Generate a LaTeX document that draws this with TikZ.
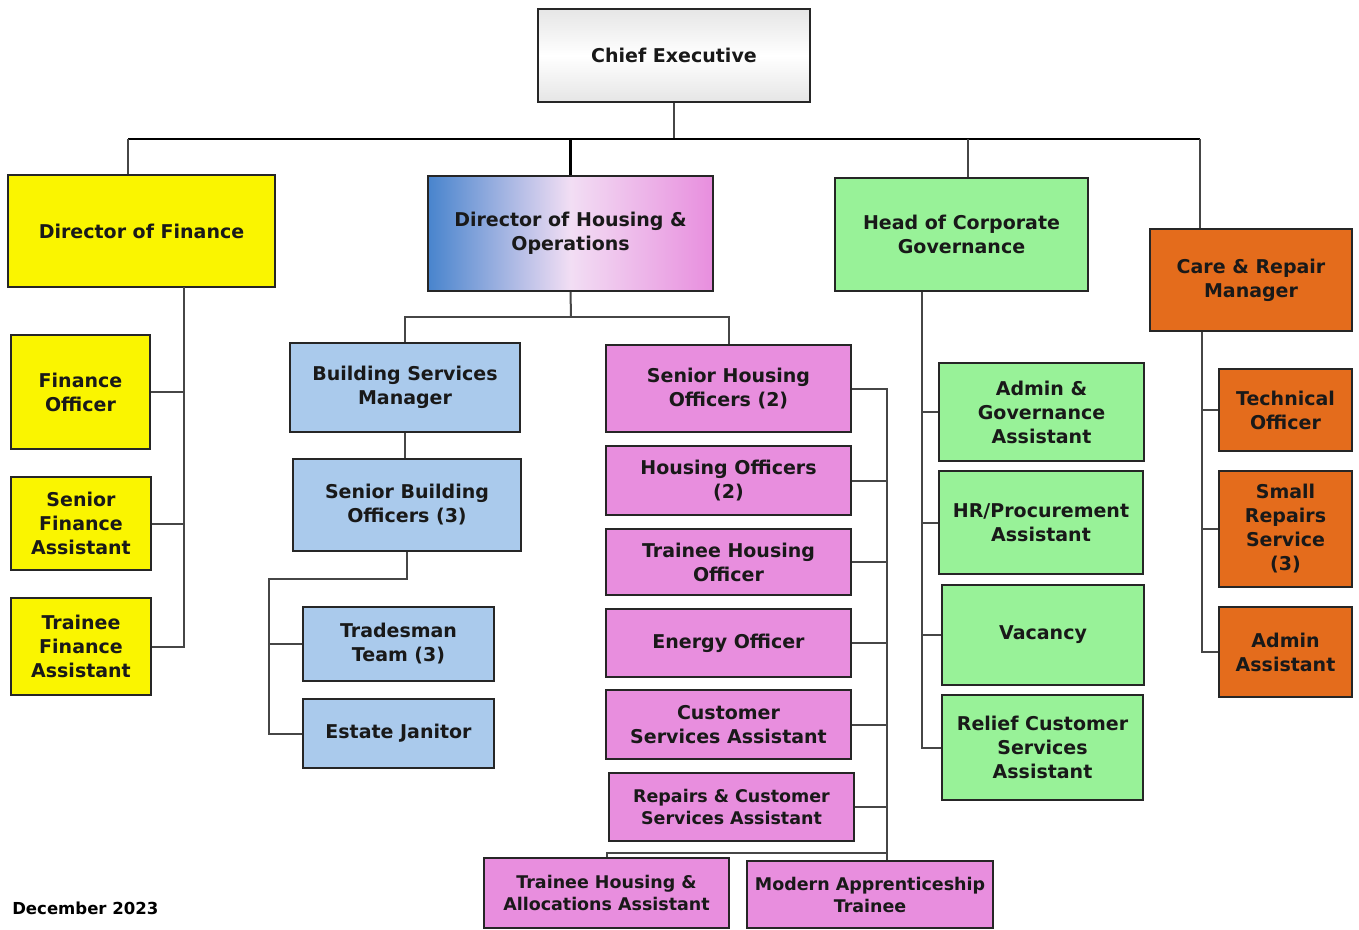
\documentclass[tikz,border=0pt]{standalone}
\usepackage{fontspec}
\setmainfont{DejaVu Sans}
\usetikzlibrary{shadows}
\definecolor{cyel}{RGB}{250,245,0}
\definecolor{cblue}{RGB}{170,202,236}
\definecolor{cpink}{RGB}{232,142,222}
\definecolor{cgreen}{RGB}{152,242,152}
\definecolor{corange}{RGB}{228,108,28}
\definecolor{cline}{RGB}{70,70,70}
\definecolor{hblue}{RGB}{72,132,205}
\definecolor{hmid}{RGB}{242,222,244}
\tikzset{
  orgbox/.style={draw=black!85, line width=1.2pt, align=center, inner sep=0pt,
    font=\bfseries\fontsize{14.25}{18}\selectfont, text=black!90,
    drop shadow={opacity=0.35, shadow xshift=0.8pt, shadow yshift=-0.8pt}},
  smallfont/.style={font=\bfseries\fontsize{13.1}{16.5}\selectfont},
  conn/.style={draw=cline, line width=1.5pt},
  bus/.style={draw=black, line width=2.2pt},
}
\newcommand\orgbox[7]{\node[orgbox,#2,minimum width={(#5-#3)*0.75pt}, minimum height={(#6-#4)*0.75pt}] (#1) at ({(#3+#5)/2},{(#4+#6)/2}) {#7};}
\begin{document}
\begin{tikzpicture}[x=0.75pt,y=-0.75pt]
\useasboundingbox[fill=white] (0,0) rectangle (1359,929);
% coordinates
\coordinate (busL) at (128,139);
\coordinate (busR) at (1200,139);
\coordinate (busG) at (968,139);
\coordinate (ft) at (184,287);
\coordinate (hj) at (571,317);
\coordinate (tj) at (269,579);
\coordinate (ht) at (887,0);
\coordinate (hb) at (887,853);
\coordinate (gt) at (922,0);
\coordinate (ct) at (1202,0);
% boxes
\orgbox{ce}{top color=black!10,bottom color=black!10,middle color=white}{538}{9}{810}{102}{Chief Executive}
\orgbox{dfin}{fill=cyel}{8}{175}{275}{287}{Director of Finance}
\orgbox{dho}{left color=hblue,right color=cpink,middle color=hmid}{428}{176}{713}{291}{Director of Housing \&\\Operations}
\orgbox{hcg}{fill=cgreen}{835}{178}{1088}{291}{Head of Corporate\\Governance}
\orgbox{crm}{fill=corange}{1150}{229}{1352}{331}{Care \& Repair\\Manager}
\orgbox{fo}{fill=cyel}{11}{335}{150}{449}{Finance\\Officer}
\orgbox{sfa}{fill=cyel}{11}{477}{151}{570}{Senior\\Finance\\Assistant}
\orgbox{tfa}{fill=cyel}{11}{598}{151}{695}{Trainee\\Finance\\Assistant}
\orgbox{bsm}{fill=cblue}{290}{343}{520}{432}{Building Services\\Manager}
\orgbox{sbo}{fill=cblue}{293}{459}{521}{551}{Senior Building\\Officers (3)}
\orgbox{tt}{fill=cblue}{303}{607}{494}{681}{Tradesman\\Team (3)}
\orgbox{ej}{fill=cblue}{303}{699}{494}{768}{Estate Janitor}
\orgbox{sho}{fill=cpink}{606}{345}{851}{432}{Senior Housing\\Officers (2)}
\orgbox{ho}{fill=cpink}{606}{446}{851}{515}{Housing Officers\\(2)}
\orgbox{tho}{fill=cpink}{606}{529}{851}{595}{Trainee Housing\\Officer}
\orgbox{eo}{fill=cpink}{606}{609}{851}{677}{Energy Officer}
\orgbox{csa}{fill=cpink}{606}{690}{851}{759}{Customer\\Services Assistant}
\orgbox{rcsa}{fill=cpink,smallfont}{609}{773}{854}{841}{Repairs \& Customer\\Services Assistant}
\orgbox{thaa}{fill=cpink,smallfont}{484}{858}{729}{928}{Trainee Housing \&\\Allocations Assistant}
\orgbox{mat}{fill=cpink,smallfont}{747}{861}{993}{928}{Modern Apprenticeship\\Trainee}
\orgbox{aga}{fill=cgreen}{939}{363}{1144}{461}{Admin \&\\Governance\\Assistant}
\orgbox{hrp}{fill=cgreen}{939}{471}{1143}{574}{HR/Procurement\\Assistant}
\orgbox{vac}{fill=cgreen}{942}{585}{1144}{685}{Vacancy}
\orgbox{rcs}{fill=cgreen}{942}{695}{1143}{800}{Relief Customer\\Services\\Assistant}
\orgbox{to}{fill=corange}{1219}{369}{1352}{451}{Technical\\Officer}
\orgbox{srs}{fill=corange}{1219}{471}{1352}{587}{Small\\Repairs\\Service\\(3)}
\orgbox{aa}{fill=corange}{1219}{607}{1352}{697}{Admin\\Assistant}
% top level
\draw[conn] (ce.south) -- (ce.south |- busL);
\draw[bus] (busL) -- (busR);
\draw[conn] (busL) -- (busL |- dfin.north);
\draw[bus] (dho.north |- busL) -- (dho.north);
\draw[conn] (busG) -- (busG |- hcg.north);
\draw[conn] (busR) -- (busR |- crm.north);
% finance
\draw[conn] (ft) |- (tfa.east);
\draw[conn] (fo.east) -- (fo.east -| ft);
\draw[conn] (sfa.east) -- (sfa.east -| ft);
% housing
\draw[conn] (dho.south) -- (hj);
\draw[conn] (bsm.north) |- (hj) -| (sho.north);
\draw[conn] (bsm.south) -- (bsm.south |- sbo.north);
\draw[conn] (sbo.south) |- (tj) |- (ej.west);
\draw[conn] (tt.west) -- (tt.west -| tj);
\draw[conn] (sho.east) -| (ht |- mat.north);
\draw[conn] (ho.east) -- (ho.east -| ht);
\draw[conn] (tho.east) -- (tho.east -| ht);
\draw[conn] (eo.east) -- (eo.east -| ht);
\draw[conn] (csa.east) -- (csa.east -| ht);
\draw[conn] (rcsa.east) -- (rcsa.east -| ht);
\draw[conn] (hb) -| (thaa.north);
% governance
\draw[conn] (hcg.south -| gt) |- (rcs.west);
\draw[conn] (aga.west) -- (aga.west -| gt);
\draw[conn] (hrp.west) -- (hrp.west -| gt);
\draw[conn] (vac.west) -- (vac.west -| gt);
% care
\draw[conn] (crm.south -| ct) |- (aa.west);
\draw[conn] (to.west) -- (to.west -| ct);
\draw[conn] (srs.west) -- (srs.west -| ct);
% footer
\node[anchor=west, font=\bfseries\fontsize{12.4}{14}\selectfont, inner sep=0pt] (date) at (12,908) {December 2023};
\end{tikzpicture}
\end{document}
